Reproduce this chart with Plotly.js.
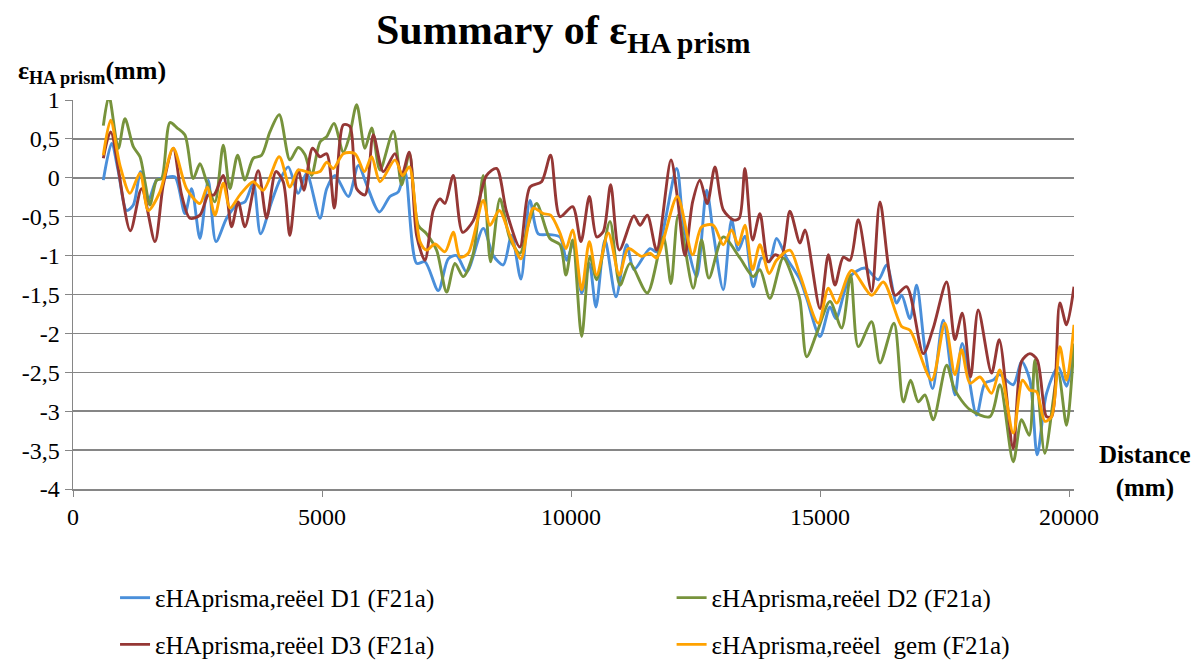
<!DOCTYPE html>
<html>
<head>
<meta charset="utf-8">
<script src="https://cdn.plot.ly/plotly-3.0.1.min.js"></script>
<style>html,body{margin:0;padding:0;background:#fff;}#chart{width:1201px;height:662px;}</style>
</head>
<body>
<div id="chart"></div>
<script>
// ---- data (distance in mm, epsilon in mm) ----
const d1X = [609,776,910,1077,1211,1358,1512,1679,1846,2047,2248,2382,2549,2716,2870,3084,3285,3452,3619,3766,3987,4154,4322,4522,4690,
  4960,5094,5261,5529,5730,5897,6151,6365,6532,6666,6900,7067,7335,7536,7703,7904,8238,8439,8640,8807,8994,9175,9342,9576,
  9779,9913,10047,10214,10368,10501,10682,10903,11117,11264,11585,11719,12121,12254,12522,12723,12857,13057,13224,13358,13492,13659,13826,13980,14127,14328,
  14598,14732,15000,15200,15321,15602,15903,16170,16338,16538,16639,16806,16940,17107,17261,17475,17709,17856,18144,18311,18478,18599,18880,19047,19214,19361,19549,19783,19950,20100];
const d1Y = [-0.03,0.44,0.08,-0.42,-0.35,0.08,-0.29,-0.03,0.0,0.01,-0.46,-0.14,-0.78,-0.03,-0.82,-0.52,-0.35,-0.31,-0.07,-0.72,-0.31,-0.03,0.14,-0.20,0.06,
  -0.52,-0.14,0.03,-0.24,0.16,-0.09,-0.44,-0.24,-0.18,0.08,-1.10,-1.08,-1.45,-1.04,-1.00,-1.21,-0.65,-1.00,-1.12,-0.74,-1.30,-0.29,-0.72,-0.73,
  -0.76,-1.06,-0.84,-1.48,-1.10,-1.66,-0.80,-1.53,-0.86,-1.18,-0.91,-0.95,0.12,-0.58,-1.27,-0.16,-0.71,-1.44,-0.54,-0.93,-0.75,-1.40,-1.03,-1.08,-0.78,-1.03,
  -1.31,-1.55,-2.04,-1.66,-1.81,-1.27,-1.16,-1.31,-1.12,-1.61,-1.51,-1.81,-1.38,-2.21,-2.71,-1.83,-2.79,-2.13,-3.05,-2.64,-2.60,-2.53,-2.66,-2.36,-2.60,-3.56,-2.77,-2.43,-2.68,-2.17];

const d2X = [609,722,910,1043,1211,1345,1445,1545,1679,1779,1947,2094,2248,2415,2549,2683,2850,3017,3151,3305,3452,3619,3786,3954,4141,4355,4522,4656,4790,
  4960,5094,5241,5428,5549,5696,5863,5997,6164,6432,6599,6753,6933,7100,7301,7502,7669,7837,8038,8238,8385,8573,8773,8974,9141,9309,9576,
  9779,9899,10033,10214,10381,10515,10783,10983,11184,11532,11853,12007,12154,12455,12622,12769,13057,13391,13659,13793,13994,14261,14495,
  14598,14732,14933,15200,15434,15615,15769,16036,16204,16485,16672,16819,16973,17107,17274,17542,17709,18010,18412,18612,18880,19047,19201,19315,19515,19783,19950,20100];
const d2Y = [0.67,1.05,0.38,0.76,0.40,0.27,-0.05,-0.35,-0.03,-0.01,0.71,0.64,0.55,-0.01,0.18,-0.05,-0.31,0.42,-0.14,0.29,-0.03,0.25,0.29,0.59,0.81,0.23,0.39,0.30,0.03,
  0.46,0.53,0.70,0.33,0.53,0.94,0.38,0.64,0.10,0.60,-0.09,0.31,-0.61,-0.72,-0.93,-1.47,-1.10,-1.27,-0.97,0.03,-1.08,-0.27,-0.78,-0.97,-0.61,-0.33,-0.78,
  -0.86,-1.25,-0.80,-2.04,-1.01,-1.31,-0.56,-1.38,-1.10,-1.48,-0.76,-1.36,-0.48,-1.42,-0.80,-1.29,-0.76,-1.03,-1.27,-1.18,-1.55,-1.03,-1.36,
  -1.57,-2.30,-2.00,-1.59,-1.93,-1.25,-2.17,-1.85,-2.38,-1.87,-2.88,-2.60,-2.88,-2.79,-3.11,-2.41,-2.73,-2.98,-3.07,-2.66,-3.65,-3.11,-3.31,-2.34,-3.54,-2.51,-3.18,-2.13];

const d3X = [609,756,1150,1378,1646,1813,2013,2181,2348,2549,2716,2830,3017,3184,3318,3452,3719,3887,4074,4221,4355,4522,4636,4810,
  4960,5094,5248,5428,5562,5696,5863,6030,6231,6466,6599,6753,6900,7067,7234,7368,7469,7636,7823,8038,8305,8505,8707,8974,9175,9409,9590,
  9779,10033,10200,10368,10515,10649,10796,10970,11264,11385,11532,11719,12007,12134,12288,12442,12589,12736,12890,13057,13258,13378,13492,13646,13793,13960,14094,14228,14395,
  14598,14698,15000,15167,15300,15468,15602,15769,16036,16204,16505,16739,17073,17274,17542,17709,17856,18023,18177,18445,18599,18880,19047,19214,19361,19549,19649,19816,19950,20100];
const d3Y = [0.25,0.59,-0.68,-0.14,-0.82,-0.09,0.38,-0.22,-0.52,-0.48,-0.22,-0.22,0.03,-0.63,-0.31,-0.63,0.09,-0.52,0.08,-0.05,-0.74,0.10,-0.16,0.38,
  0.27,0.31,-0.39,0.68,0.66,-0.14,-0.22,0.55,0.08,0.31,0.03,0.33,-0.74,-1.06,-0.42,-0.27,-0.33,0.03,-0.70,-0.55,0.03,0.12,-0.44,-0.89,-0.12,-0.05,0.29,
  -0.50,-0.37,-0.82,-0.24,-0.76,-0.69,-0.09,-0.93,-0.49,-0.61,-0.48,-0.93,0.23,-0.24,-1.00,-0.31,-0.03,-0.33,0.14,-0.41,-0.54,-0.52,0.12,-0.80,-0.46,-1.08,-0.99,-1.01,-0.43,
  -0.84,-0.67,-1.68,-0.99,-1.38,-1.02,-1.06,-0.54,-1.46,-0.31,-1.51,-1.40,-2.26,-1.93,-1.34,-2.08,-1.74,-2.56,-1.70,-2.51,-2.08,-3.48,-2.36,-2.26,-2.34,-3.07,-3.07,-1.61,-1.89,-1.40];

const gemX = [609,756,943,1144,1345,1512,1746,2013,2281,2549,2696,2850,3017,3151,3352,3619,3820,4141,4355,4522,4790,
  4960,5094,5228,5428,5663,5850,5997,6164,6466,6619,6753,6967,7100,7268,7469,7636,7770,7937,8238,8372,8560,8773,8994,9242,9443,9590,
  9779,9899,10033,10214,10368,10515,10749,10970,11150,11418,11585,11719,12134,12442,12622,12857,13057,13224,13358,13492,13646,13793,13980,14127,14395,
  14598,14966,15167,15334,15635,16036,16271,16639,16806,17241,17508,17709,17843,18010,18211,18445,18612,18880,19067,19214,19348,19515,19649,19816,19950,20100];
const gemY = [0.29,0.74,0.16,-0.20,0.06,-0.42,-0.18,0.38,-0.14,-0.33,-0.12,-0.48,-0.07,-0.39,-0.22,-0.05,-0.16,0.27,-0.12,0.10,0.06,
  0.08,0.20,0.12,0.31,0.31,0.08,0.27,-0.05,0.23,0.03,0.14,-0.82,-0.93,-0.85,-0.95,-0.70,-1.02,-0.97,-0.29,-0.61,-0.42,-0.74,-1.04,-0.39,-0.46,-0.48,
  -0.71,-0.91,-0.67,-1.44,-0.82,-1.25,-0.71,-1.25,-0.91,-1.01,-0.97,-1.03,-0.24,-0.99,-0.63,-0.61,-0.86,-0.67,-0.86,-0.61,-1.18,-0.86,-1.23,-1.06,-0.93,
  -1.25,-1.87,-1.42,-1.61,-1.19,-1.51,-1.34,-1.91,-1.96,-2.60,-1.87,-2.53,-2.21,-2.64,-2.56,-2.77,-2.47,-3.28,-2.60,-2.73,-2.75,-3.13,-3.07,-2.17,-2.60,-1.89];

const seriesNames = ['εHAprisma,reëel D1 (F21a)','εHAprisma,reëel D2 (F21a)','εHAprisma,reëel D3 (F21a)','εHAprisma,reëel\u00a0\u00a0gem (F21a)'];
const xTickVals = [0,5000,10000,15000,20000];
const xTickText = ['0','5000','10000','15000','20000'];
const yTickVals = [1,0.5,0,-0.5,-1,-1.5,-2,-2.5,-3,-3.5,-4];
const yTickText = ['1','0,5','0','-0,5','-1','-1,5','-2','-2,5','-3','-3,5','-4'];

const colors = ['#4A8FDA','#77933C','#953735','#FFA200'];
const serif = '"Times New Roman", "Liberation Serif", Tinos, "DejaVu Serif", serif';

const legendIds = ['legend','legend2','legend3','legend4'];
function tr(x, y, i) {
  return {x: x, y: y, name: seriesNames[i], type: 'scatter', mode: 'lines',
    line: {color: colors[i], width: 2.9, shape: 'spline', smoothing: 0.8},
    legend: legendIds[i], hoverinfo: 'skip'};
}
const data = [tr(d1X,d1Y,0), tr(d2X,d2Y,1), tr(d3X,d3Y,2), tr(gemX,gemY,3)];

function leg(x, y) {
  return {orientation: 'h', x: x, y: y, xanchor: 'left', yanchor: 'middle', xref: 'paper', yref: 'paper',
    font: {family: serif, size: 25, color: '#000'}, bgcolor: 'rgba(0,0,0,0)', borderwidth: 0};
}

const layout = {
  width: 1201, height: 662,
  margin: {l: 73, r: 127, t: 100, b: 173, autoexpand: false},
  paper_bgcolor: '#fff', plot_bgcolor: '#fff',
  font: {family: serif, color: '#000', size: 24},
  title: {text: '<b>Summary of ε<sub>HA prism</sub></b>', font: {family: serif, size: 42, color: '#000'},
    x: 0.469, xanchor: 'center', y: 0.955, yanchor: 'middle'},
  xaxis: {range: [0, 20100], tickvals: xTickVals, ticktext: xTickText, showgrid: false, zeroline: false,
    showline: true, linecolor: '#868686', linewidth: 1.5, ticks: 'outside', ticklen: 6, tickcolor: '#868686',
    tickfont: {family: serif, size: 24, color: '#000'}},
  yaxis: {range: [-4, 1], tickvals: yTickVals, ticktext: yTickText, showgrid: true, gridcolor: '#868686', gridwidth: 1.5,
    zeroline: false, showline: true, linecolor: '#868686', linewidth: 1.5, ticks: 'outside', ticklen: 7, tickcolor: '#868686',
    tickfont: {family: serif, size: 24, color: '#000'}},
  showlegend: true,
  legend: leg(0.042, -0.28),
  legend2: leg(0.598, -0.28),
  legend3: leg(0.042, -0.40),
  legend4: leg(0.598, -0.40),
  annotations: [
    {text: '<b>ε<sub>HA prism</sub>(mm)</b>', xref: 'paper', yref: 'paper', x: -0.057, y: 1.072, xanchor: 'left', yanchor: 'middle',
      showarrow: false, font: {family: serif, size: 26, color: '#000'}},
    {text: '<b>Distance<br>(mm)</b>', xref: 'paper', yref: 'paper', x: 1.071, y: 0.044, xanchor: 'center', yanchor: 'middle',
      showarrow: false, font: {family: serif, size: 25, color: '#000'}}
  ]
};
Plotly.newPlot('chart', data, layout, {displayModeBar: false, staticPlot: true});
</script>
</body>
</html>
